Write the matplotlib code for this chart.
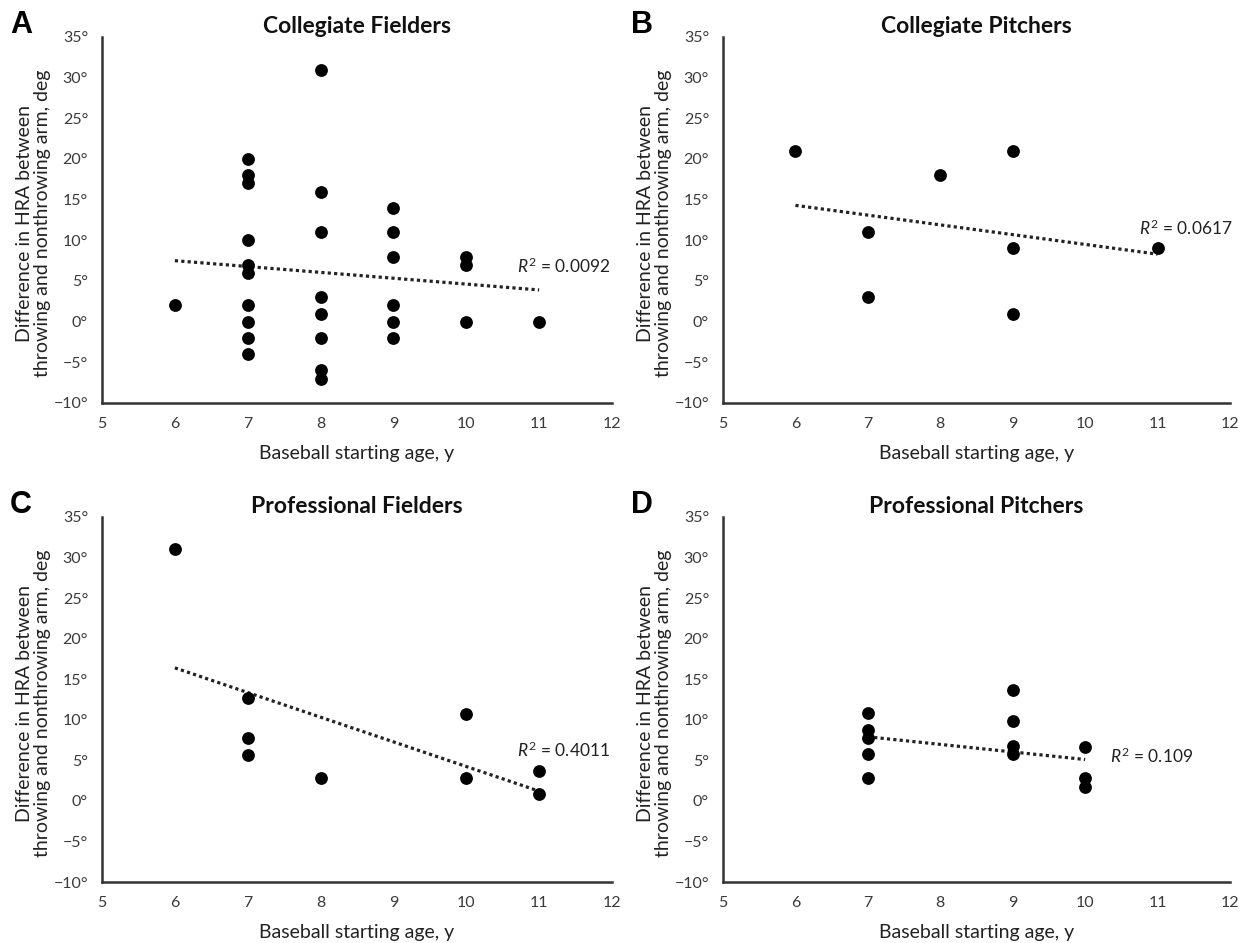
import matplotlib
matplotlib.use("Agg")
import matplotlib.pyplot as plt
import numpy as np

plt.rcParams['font.family'] = ['Lato', 'DejaVu Sans']
plt.rcParams['mathtext.fontset'] = 'custom'
plt.rcParams['mathtext.rm'] = 'Lato'
plt.rcParams['mathtext.it'] = 'Lato:italic'

# ---- data ----
titles = ["Collegiate Fielders", "Collegiate Pitchers", "Professional Fielders", "Professional Pitchers"]
panel_letters = ["A", "B", "C", "D"]

cf_x = [6, 7, 7, 7, 7, 7, 7, 7, 7, 7, 7, 8, 8, 8, 8, 8, 8, 8, 8, 9, 9, 9, 9, 9, 9, 10, 10, 10, 11]
cf_y = [2, 20, 18, 17, 10, 7, 6, 2, 0, -2, -4, 31, 16, 11, 3, 1, -2, -6, -7, 14, 11, 8, 2, 0, -2, 8, 7, 0, 0]

cp_x = [6, 7, 7, 8, 9, 9, 9, 11]
cp_y = [21, 11, 3, 18, 21, 9, 1, 9]

pf_x = [6, 7, 7, 7, 8, 10, 10, 11, 11]
pf_y = [31, 12.7, 7.8, 5.7, 2.8, 10.7, 2.8, 3.7, 0.8]

pp_x = [7, 7, 7, 7, 7, 9, 9, 9, 9, 10, 10, 10]
pp_y = [10.8, 8.8, 7.8, 5.8, 2.8, 13.7, 9.8, 6.8, 5.8, 6.7, 2.8, 1.7]

# trend line end points (x range and fitted values)
trend_x = [[6, 11], [6, 11], [6, 11], [7, 10]]
trend_y = [[7.5, 3.9], [14.3, 8.3], [16.4, 1.2], [7.9, 5.1]]

r2_text = ["0.0092", "0.0617", "0.4011", "0.109"]
r2_pos = [(10.7, 6.8), (10.75, 11.5), (10.7, 6.2), (10.35, 5.5)]

y_ticks = [-10, -5, 0, 5, 10, 15, 20, 25, 30, 35]
x_ticks = [5, 6, 7, 8, 9, 10, 11, 12]

xs = [cf_x, cp_x, pf_x, pp_x]
ys = [cf_y, cp_y, pf_y, pp_y]

W, H = 1251, 943
fig = plt.figure(figsize=(W / 100, H / 100), dpi=100)

boxes = [(102, 612, 37, 403), (723, 1230, 37, 403),
         (102, 612, 517, 882), (723, 1230, 517, 882)]

spine_col = "#333333"
for i in range(4):
    l, r, t, b = boxes[i]
    ax = fig.add_axes([l / W, 1 - b / H, (r - l) / W, (b - t) / H])
    ax.set_xlim(5, 12)
    ax.set_ylim(-10, 35)
    for s in ["top", "right"]:
        ax.spines[s].set_visible(False)
    for s in ["left", "bottom"]:
        ax.spines[s].set_color(spine_col)
        ax.spines[s].set_linewidth(1.8)
    ax.set_xticks(x_ticks)
    ax.set_xticklabels([str(v) for v in x_ticks])
    ax.set_yticks(y_ticks)
    ax.set_yticklabels([("\u2212" if v < 0 else "") + f"{abs(v)}\u00b0" for v in y_ticks])
    ax.tick_params(axis="both", length=0, labelsize=11.5, colors="#3a3a3a")
    ax.tick_params(axis="x", pad=10)
    ax.tick_params(axis="y", pad=10)

    ax.plot(trend_x[i], trend_y[i], linestyle=(0, (1, 1)), color="#222222", linewidth=2.3, zorder=2)
    ax.scatter(xs[i], ys[i], s=85, color="black", zorder=3, linewidths=0)

    ax.text(r2_pos[i][0], r2_pos[i][1], r"$R^2$" + " = " + r2_text[i], fontsize=12.5,
            va="center", ha="left", color="#222222")

    ax.set_title(titles[i], fontsize=16.5, fontweight="bold", y=1.0, pad=3, color="#111111")
    ax.set_xlabel("Baseball starting age, y", fontsize=14, labelpad=10, color="#222222")
    ax.set_ylabel("Difference in HRA between\nthrowing and nonthrowing arm, deg",
                  fontsize=14, color="#222222", linespacing=1.1)
    ax.yaxis.set_label_coords(-51 / (r - l), 0.49)

    fig.text((l - 81) / W, 1 - (t - 12) / H, panel_letters[i], fontsize=22, fontweight="bold",
             ha="center", va="center", family=["Liberation Sans", "DejaVu Sans"])

fig.savefig("out.png", dpi=100, facecolor="white")
